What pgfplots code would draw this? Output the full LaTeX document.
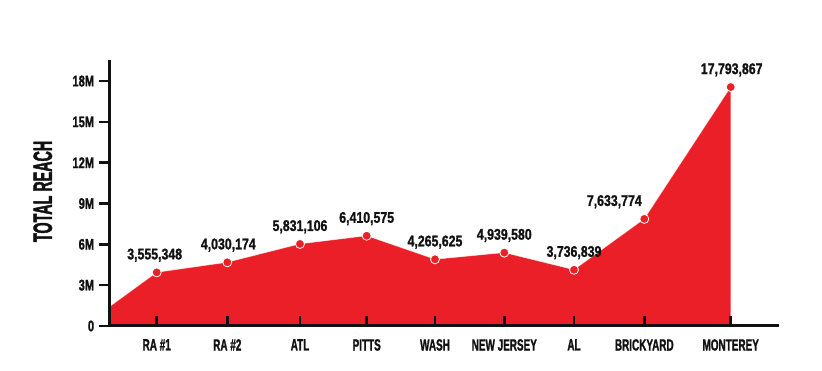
\documentclass[border=0pt]{standalone}
\usepackage{pgfplots}
\pgfplotsset{compat=1.18}
\usepackage{pgfplotstable}
\usepackage{fontspec}
\setmainfont{Liberation Sans}
\newfontfamily\tickfont[FakeStretch=0.72,FakeBold=1.2]{Liberation Sans}
\newfontfamily\datafont[FakeStretch=0.80,FakeBold=1.2]{Liberation Sans}
\newfontfamily\catfont[FakeStretch=0.61,FakeBold=1.2]{Liberation Sans}
\newfontfamily\titlefont[FakeStretch=0.54,FakeBold=1.5]{Liberation Sans}
\definecolor{reach}{RGB}{234,31,39}
\definecolor{ink}{RGB}{17,17,17}

\pgfplotstableread{
x y
0 1.40
47.4 3.94
118.0 4.68
190.7 6.03
257.4 6.63
325.7 4.90
395.0 5.39
464.7 4.13
535.0 7.87
621.4 17.56
}\areatable

\pgfplotstableread{
x y label dx
47.4 3.94 3,555,348 -2
118.0 4.68 4,030,174 1
190.7 6.03 5,831,106 0
257.4 6.63 6,410,575 0
325.7 4.90 4,265,625 0
395.0 5.39 4,939,580 0
464.7 4.13 3,736,839 0
535.0 7.87 7,633,774 -30
621.4 17.56 17,793,867 1
}\pointtable

\begin{document}
\begin{tikzpicture}
\begin{axis}[
  at={(109.3pt,45pt)}, anchor=south west,
  scale only axis, width=669.7pt, height=266pt,
  xmin=0, xmax=669.7, ymin=0, ymax=19.55,
  axis x line=bottom, axis y line=left,
  axis line style={-, line width=3pt, ink},
  axis on top, clip=false,
  tick align=outside, major tick length=10pt,
  xtick={47.4,118.0,190.7,257.4,325.7,395.0,464.7,535.0,621.4},
  xticklabels={RA \#1, RA \#2, ATL, PITTS, WASH, NEW JERSEY, AL, BRICKYARD, MONTEREY},
  xtick style={yshift=10pt, line width=2.7pt, ink},
  ytick={0,3,6,9,12,15,18},
  yticklabels={0,3M,6M,9M,12M,15M,18M},
  ytick style={line width=2.5pt, ink},
  minor tick num=0,
  xticklabel style={font=\catfont\bfseries\fontsize{16.3}{18}\selectfont, text=ink, inner sep=0pt, yshift=-3pt},
  yticklabel style={font=\tickfont\bfseries\fontsize{15.4}{17}\selectfont, text=ink, inner sep=0pt, xshift=-5pt},
  ylabel={TOTAL REACH},
  every axis y label/.style={at={(axis description cs:-0.0993,0.506)}, rotate=90, anchor=center,
    font=\titlefont\bfseries\fontsize{26.5}{28}\selectfont, text=ink},
]
\addplot[fill=reach, draw=none] table[x=x,y=y] {\areatable} \closedcycle;
\addplot[white, opacity=0.45, line width=0.6pt, no marks] table[x=x,y=y] {\areatable};
\addplot[only marks, mark=*, mark size=4.5pt,
  mark options={fill=reach, draw=white, line width=0.8pt},
  point meta=explicit symbolic,
  visualization depends on={\thisrow{dx} \as \dx},
  nodes near coords,
  nodes near coords style={anchor=base, inner sep=0pt, yshift=13pt, xshift=\dx,
    font=\datafont\bfseries\fontsize{15.4}{17}\selectfont, text=ink},
] table[x=x,y=y,meta=label] {\pointtable};
\end{axis}
\pgfresetboundingbox
\path (0,0) rectangle (822pt,371pt);
\end{tikzpicture}
\end{document}
